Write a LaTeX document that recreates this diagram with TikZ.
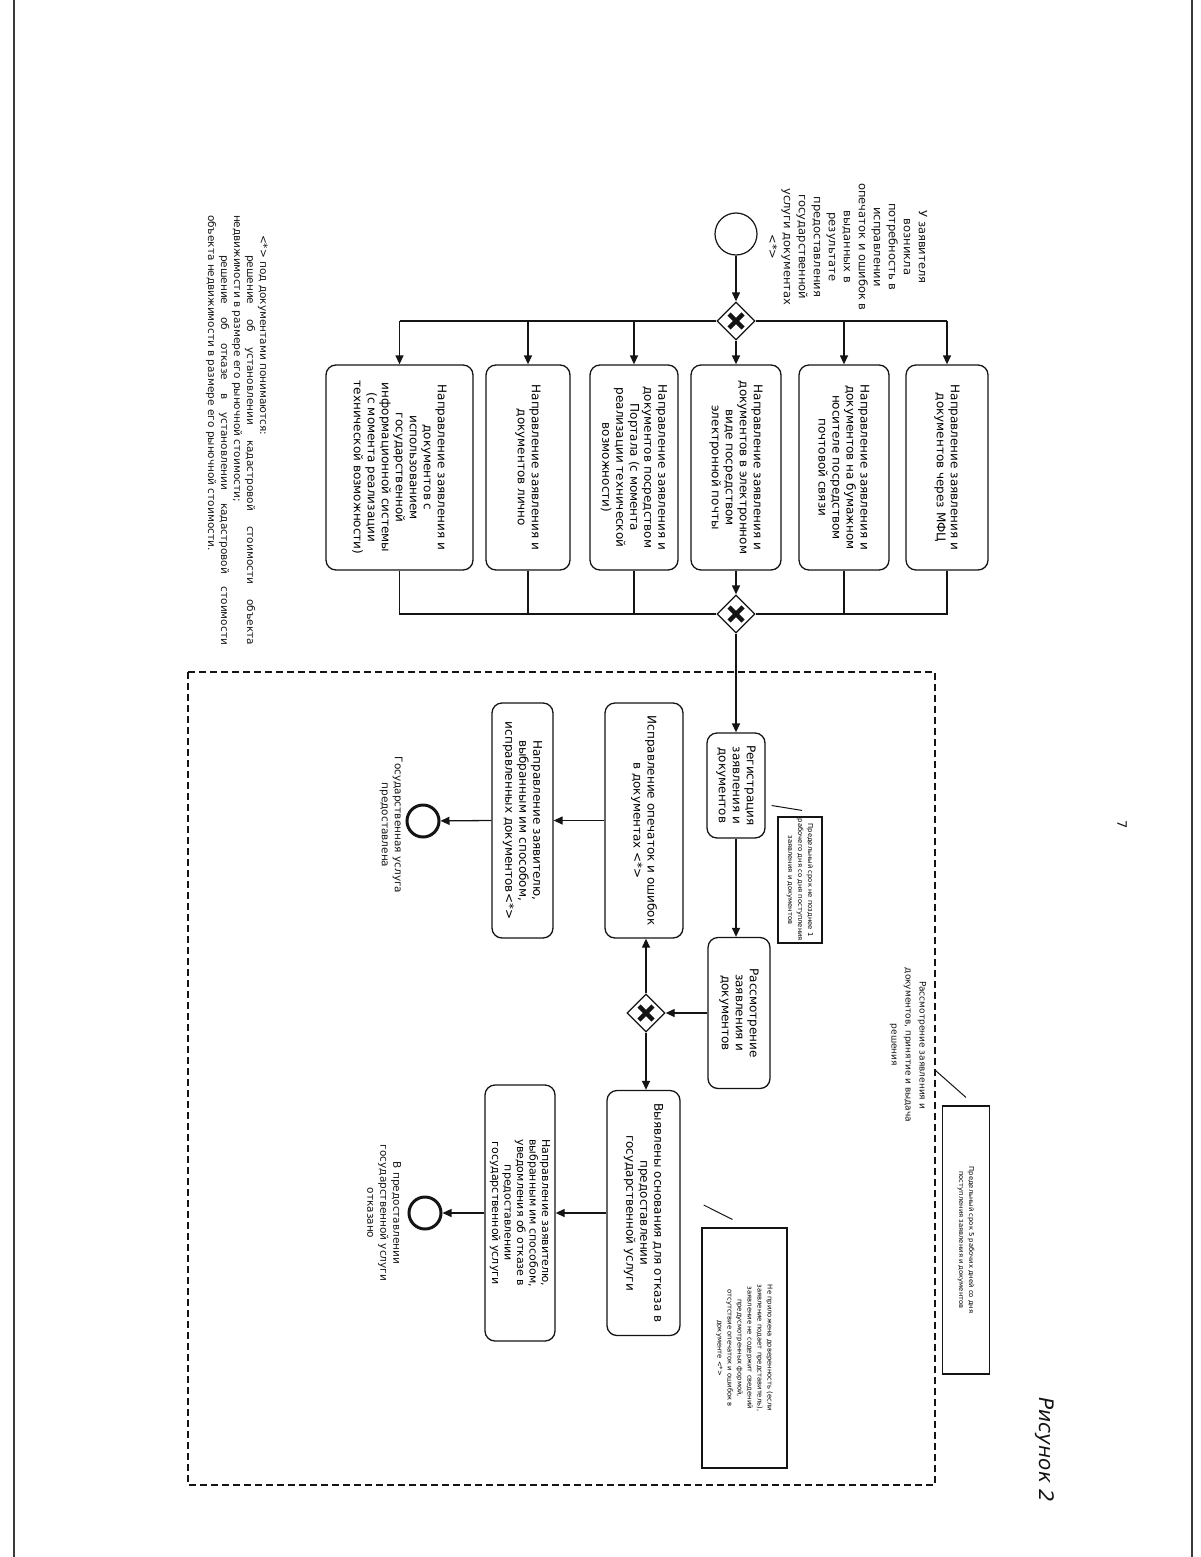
\documentclass[tikz,border=0pt]{standalone}
\usepackage{fontspec}
\setmainfont{DejaVu Sans}
\usepackage{tikz}
\usetikzlibrary{positioning,arrows.meta,shapes.geometric,calc}
\definecolor{ink}{HTML}{141414}
\definecolor{edge}{HTML}{3A3A3A}
\tikzset{
  task/.style={rectangle,rounded corners=10pt,draw=ink,line width=1.3pt,
    rotate=-90,align=center,inner sep=3pt,font=\fontsize{12}{14}\selectfont},
  note/.style={rectangle,draw=ink,line width=1.1pt,rotate=-90,align=center,
    inner sep=2pt,font=\fontsize{6.8}{10}\selectfont},
  gate/.style={diamond,draw=ink,line width=1.3pt,fill=white,minimum size=38pt,
    inner sep=0pt,path picture={
      \draw[line width=4.5pt,ink]
        ([shift={(-7pt,-7pt)}]path picture bounding box.center) --
        ([shift={(7pt,7pt)}]path picture bounding box.center)
        ([shift={(-7pt,7pt)}]path picture bounding box.center) --
        ([shift={(7pt,-7pt)}]path picture bounding box.center);}},
  evstart/.style={circle,draw=ink,line width=1.2pt,minimum size=42pt,inner sep=0pt},
  evend/.style={circle,draw=ink,line width=3pt,minimum size=32pt,inner sep=0pt},
  ar/.style={-{Triangle[length=9pt,width=8pt]},line width=1.3pt,draw=ink},
  ln/.style={line width=1.3pt,draw=ink},
  assoc/.style={line width=1pt,draw=ink},
  lbl/.style={rotate=-90,align=center,text=ink},
}

\begin{document}
\begin{tikzpicture}[x=1pt,y=-1pt]
  \useasboundingbox (0,0) rectangle (1200,1557);
  \draw[edge,line width=1.6pt] (14,0) -- (14,1557);
  \draw[edge,line width=1.4pt] (1192,0) -- (1192,1557);

  \node[evstart] (st) at (736,234) {};
  \node[lbl,font=\fontsize{11.5}{15}\selectfont] (need) at (848,247)
    {У заявителя\\возникла\\потребность в\\исправлении\\опечаток и ошибок в\\выданных в\\результате\\предоставления\\государственной\\услуги документах\\<*>};
  \node[gate] (g1) at (736,321) {};
  \draw[ar] (st) -- (g1);

  \node[task,minimum width=205pt,minimum height=82pt] (mfc) at (947,467.5)
    {Направление заявления и\\документов через МФЦ};
  \node[task,minimum width=205pt,minimum height=90pt] (post) at (844,467.5)
    {Направление заявления и\\документов на бумажном\\носителе посредством\\почтовой связи};
  \node[task,minimum width=205pt,minimum height=90pt] (mail) at (736,467.5)
    {Направление заявления и\\документов в электронном\\виде посредством\\электронной почты};
  \node[task,minimum width=205pt,minimum height=88pt] (portal) at (634,467.5)
    {Направление заявления и\\документов посредством\\Портала (с момента\\реализации технической\\возможности)};
  \node[task,minimum width=205pt,minimum height=84pt] (pers) at (528,467.5)
    {Направление заявления и\\документов лично};
  \node[task,minimum width=205pt,minimum height=147pt] (gis) at (399.5,467.5)
    {Направление заявления и\\документов с\\использованием\\государственной\\информационной системы\\(с момента реализации\\технической возможности)};

  \draw[ln] (gis.west |- g1) -- (g1.west);
  \draw[ln] (g1.east) -- (mfc.west |- g1);
  \foreach \b in {mfc,post,portal,pers,gis}
    \draw[ar] (\b.west |- g1) -- (\b.west);
  \draw[ar] (g1) -- (mail.west);

  \node[gate] (g2) at (736,614) {};
  \draw[ln] (gis.east) |- (g2.west);
  \draw[ln] (mfc.east) |- (g2.east);
  \foreach \b in {post,portal,pers}
    \draw[ln] (\b.east) -- (\b.east |- g2);
  \draw[ar] (mail.east) -- (g2);

  \draw[ink,line width=1.8pt,dash pattern=on 7pt off 4pt] (188,672) rectangle (935,1485);
  \coordinate (bndr) at (935,1070);
  \node[lbl,font=\fontsize{9}{14}\selectfont] (bndlbl) at (908,1045)
    {Рассмотрение заявления и\\документов, принятие и выдача\\решения};

  \node[task,minimum width=105pt,minimum height=58pt] (reg) at (736,785.5)
    {Регистрация\\заявления и\\документов};
  \draw[ar] (g2) -- (reg.west);
  \node[note,minimum width=120pt,minimum height=44pt] (n1) at (800,880)
    {Предельный срок не позднее 1\\рабочего дня со дня поступления\\заявления и документов};
  \draw[assoc] ($(reg.north)+(6,20)$) -- ($(n1.west)+(2,-6)$);

  \node[task,minimum width=151pt,minimum height=62pt] (rev) at (739,1013)
    {Рассмотрение\\заявления и\\документов};
  \draw[ar] (reg.east) -- (reg.east |- rev.west);
  \node[gate] (g3) at (646,1013) {};
  \draw[ar] (rev.south) -- (g3);

  \node[task,minimum width=235pt,minimum height=78pt] (fix) at (644,820.5)
    {Исправление опечаток и ошибок\\в документах <*>};
  \draw[ar] (g3) -- (g3 |- fix.east);
  \node[task,minimum width=235pt,minimum height=61pt] (sent) at (522.5,820.5)
    {Направление заявителю,\\выбранным им способом,\\исправленных документов<*>};
  \draw[ar] (fix.south) -- (sent.north);
  \node[evend] (e1) at (423,821) {};
  \draw[ar] (sent.south) -- (e1);
  \node[lbl,font=\fontsize{10.5}{13}\selectfont] (e1lbl) at (391,825)
    {Государственная услуга\\предоставлена};

  \node[task,minimum width=245pt,minimum height=73pt] (den) at (643.5,1213)
    {Выявлены основания для отказа в\\предоставлении\\государственной услуги};
  \draw[ar] (g3) -- (g3 |- den.west);
  \node[task,minimum width=256pt,minimum height=70pt,font=\fontsize{11}{12.5}\selectfont] (refs) at (520,1213)
    {Направление заявителю,\\выбранным им способом,\\уведомления об отказе в\\предоставлении\\государственной услуги};
  \draw[ar] (den.south) -- (refs.north);
  \node[evend] (e2) at (425,1213) {};
  \draw[ar] (refs.south) -- (e2);
  \node[lbl,font=\fontsize{10.5}{13}\selectfont] (e2lbl) at (384,1213)
    {В предоставлении\\государственной услуги\\отказано};

  \node[note,minimum width=240pt,minimum height=85pt] (n2) at (744.5,1348)
    {Не приложена доверенность (если\\заявление подает представитель),\\заявление не содержит сведений\\предусмотренных формой,\\отсутствие опечаток и ошибок в\\документе <*>};
  \draw[assoc] ($(den.north)+(23,-8)$) -- ($(n2.west)+(-12,-8)$);
  \node[note,minimum width=268pt,minimum height=47pt] (n3) at (966,1240)
    {Предельный срок 5 рабочих дней со дня\\поступления заявления и документов};
  \draw[assoc] (bndr) -- ($(n3.west)+(0,-8)$);

  \node[lbl,font=\fontsize{10.5}{13}\selectfont,text width=430pt,align=justify] (fn) at (237,430)
    {\hspace*{20pt}<*> под документами понимаются:\\
     \hspace*{40pt}решение об установлении кадастровой стоимости объекта\linebreak
     недвижимости в размере его рыночной стоимости;\\
     \hspace*{40pt}решение об отказе в установлении кадастровой стоимости\linebreak
     объекта недвижимости в размере его рыночной стоимости.};

  \node[lbl,font=\fontsize{13}{15}\selectfont] (pg) at (1122,825) {7};
  \node[lbl,font=\fontsize{20}{24}\selectfont\itshape] (fig) at (1045,1450) {Рисунок 2};
\end{tikzpicture}
\end{document}
